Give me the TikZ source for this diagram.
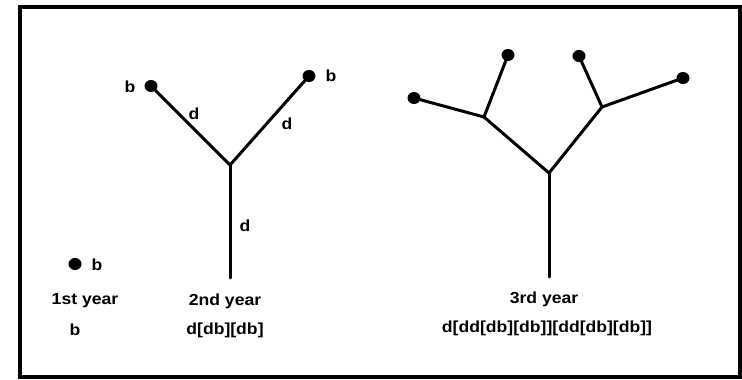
\documentclass[tikz,border=0pt]{standalone}
\usepackage{fontspec}
\usepackage{graphicx}
\setmainfont{Liberation Sans}
\usetikzlibrary{shapes.geometric}
\newcommand{\wtxt}[1]{\scalebox{1.1}[1]{#1}}
\begin{document}
\begin{tikzpicture}[x=1pt,y=-1pt,
  dot/.style={ellipse,fill=black,minimum width=13pt,minimum height=12pt,inner sep=0pt},
  br/.style={line width=3pt,line cap=round},
  lab/.style={font=\fontsize{16}{19}\selectfont\bfseries,inner sep=0pt},
]
\useasboundingbox (0,0) rectangle (742,380);
\draw[line width=3.5pt] (20,7) rectangle (740,377);
% 1st year
\node[dot] (d1) at (75,264) {};
\node[lab] (d1b) at (97,265) {\wtxt{b}};
\node[lab] (y1) at (85,301) {\wtxt{1st year}};
\node[lab] (s1) at (75,330) {\wtxt{b}};
% 2nd year
\coordinate (t2) at (230,278);
\coordinate (f2) at (230,165);
\node[dot] (l2) at (151,86) {};
\node[dot] (r2) at (309,76) {};
\draw[br] (t2) -- (f2);
\draw[br] (f2) -- (l2.center);
\draw[br] (f2) -- (r2.center);
\node[lab] (bl2) at (130,87) {\wtxt{b}};
\node[lab] (br2) at (331,76) {\wtxt{b}};
\node[lab] (dl2) at (194,114) {\wtxt{d}};
\node[lab] (dr2) at (287,124) {\wtxt{d}};
\node[lab] (dt2) at (245,226) {\wtxt{d}};
\node[lab] (y2) at (225,301) {\wtxt{2nd year}};
\node[lab] (s2) at (225,330) {\wtxt{d[db][db]}};
% 3rd year
\coordinate (t3) at (549,277);
\coordinate (f3) at (549,173);
\coordinate (fl3) at (484,117);
\coordinate (fr3) at (602,107);
\node[dot] (a3) at (414,98) {};
\node[dot] (b3) at (508,55) {};
\node[dot] (c3) at (579,56) {};
\node[dot] (e3) at (683,78) {};
\draw[br] (t3) -- (f3);
\draw[br] (f3) -- (fl3);
\draw[br] (f3) -- (fr3);
\draw[br] (fl3) -- (a3.center);
\draw[br] (fl3) -- (b3.center);
\draw[br] (fr3) -- (c3.center);
\draw[br] (fr3) -- (e3.center);
\node[lab] (y3) at (544,299) {\wtxt{3rd year}};
\node[lab] (s3) at (547,328) {\wtxt{d[dd[db][db]][dd[db][db]]}};
\end{tikzpicture}
\end{document}
